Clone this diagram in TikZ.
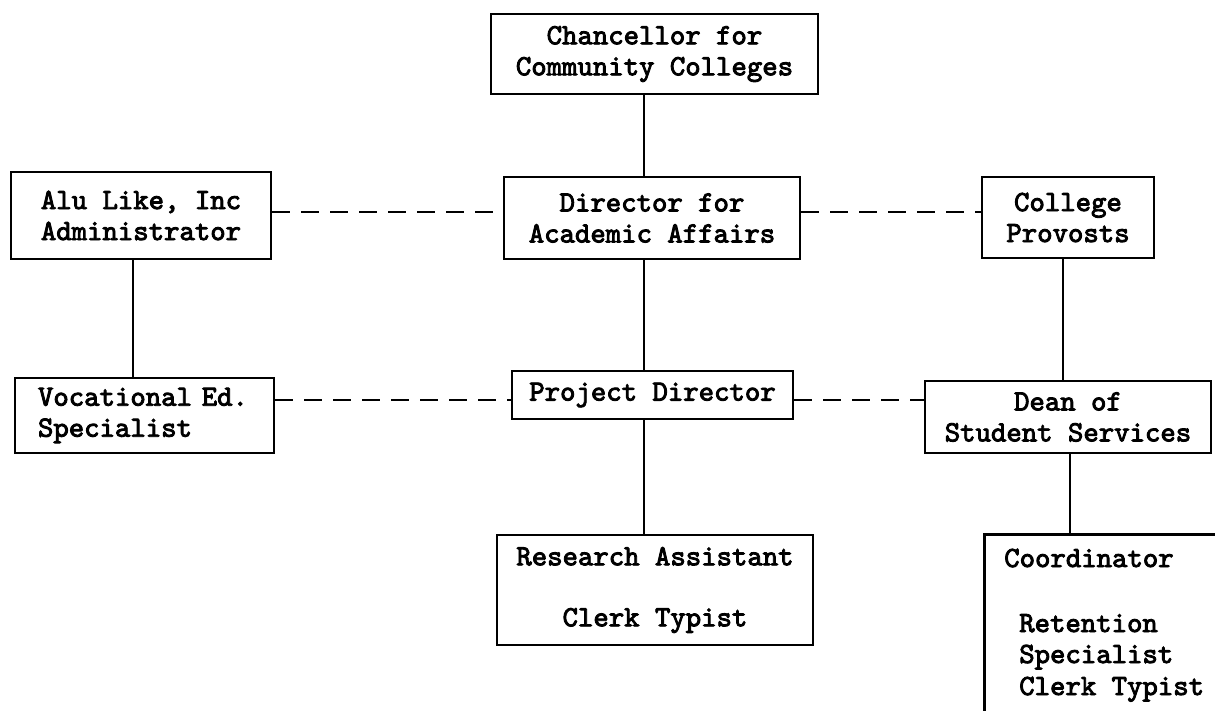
\documentclass[tikz,border=0pt]{standalone}
\usepackage{fontspec}
\newfontfamily\tw{lmmono10-regular.otf}[FakeBold=3]
\begin{document}
\begin{tikzpicture}[x=0.75pt,y=-0.75pt,
  tfont/.style={font=\tw\fontsize{22pt}{23.25pt}\selectfont},
  box/.style={draw, line width=2.2pt, inner sep=0pt, align=center, tfont},
  txt/.style={inner sep=0pt, tfont},
  solidline/.style={line width=2.2pt},
  dashline/.style={line width=2.2pt, dash pattern=on 13.5pt off 8.25pt}]
\fill[white] (0,0) rectangle (1215,711);
\useasboundingbox (0,0) rectangle (1215,711);

% boxes
\node[box, minimum width=245.25pt, minimum height=60pt] (chan) at (654.5,54) {Chancellor for\\Community Colleges};
\node[box, minimum width=222pt, minimum height=61.5pt] (dir) at (652,218) {Director for\\Academic Affairs};
\node[box, minimum width=195pt, minimum height=65.25pt] (alu) at (141,215.5) {Alu Like, Inc\\Administrator};
\node[box, minimum width=129pt, minimum height=60.75pt] (prov) at (1068,217.5) {College\\Provosts};
\node[box, align=left, inner xsep=17.25pt, text width=159.75pt, minimum height=56.25pt] (voc) at (144.5,415.5) {Vocational Ed.\\Specialist};
\node[box, minimum width=210.75pt, minimum height=36pt] (proj) at (652.5,395) {Project Director};
\node[box, minimum width=214.5pt, minimum height=54pt] (dean) at (1068,417) {Dean of\\Student Services};
\node[box, minimum width=237pt, minimum height=82.5pt] (res) at (655,590) {Research Assistant\\[22.5pt]Clerk Typist};
\node[box, anchor=north west, minimum width=183pt, minimum height=150pt] (coord) at (983,533) {};
\node[txt, anchor=base west] (coordA) at (1004,567) {Coordinator};
\node[txt, anchor=base west] (coordB) at (1019,632) {Retention};
\node[txt, anchor=base west] (coordC) at (1019,663) {Specialist};
\node[txt, anchor=base west] (coordD) at (1019,695) {Clerk Typist};

% solid connectors
\coordinate (xA) at (133,0);
\coordinate (xM) at (644,0);
\coordinate (xR) at (1063,0);
\coordinate (xS) at (1070,0);
\draw[solidline] (alu.south -| xA) -- (voc.north -| xA);
\draw[solidline] (chan.south -| xM) -- (dir.north -| xM);
\draw[solidline] (dir.south -| xM) -- (proj.north -| xM);
\draw[solidline] (proj.south -| xM) -- (res.north -| xM);
\draw[solidline] (prov.south -| xR) -- (dean.north -| xR);
\draw[solidline] (dean.south -| xS) -- (coord.north -| xS);

% dashed connectors
\coordinate (yA) at (0,212);
\coordinate (yB) at (0,400);
\draw[dashline] (alu.east |- yA) -- (dir.west |- yA);
\draw[dashline] (dir.east |- yA) -- (prov.west |- yA);
\draw[dashline] (voc.east |- yB) -- (proj.west |- yB);
\draw[dashline] (proj.east |- yB) -- (dean.west |- yB);
\end{tikzpicture}
\end{document}
